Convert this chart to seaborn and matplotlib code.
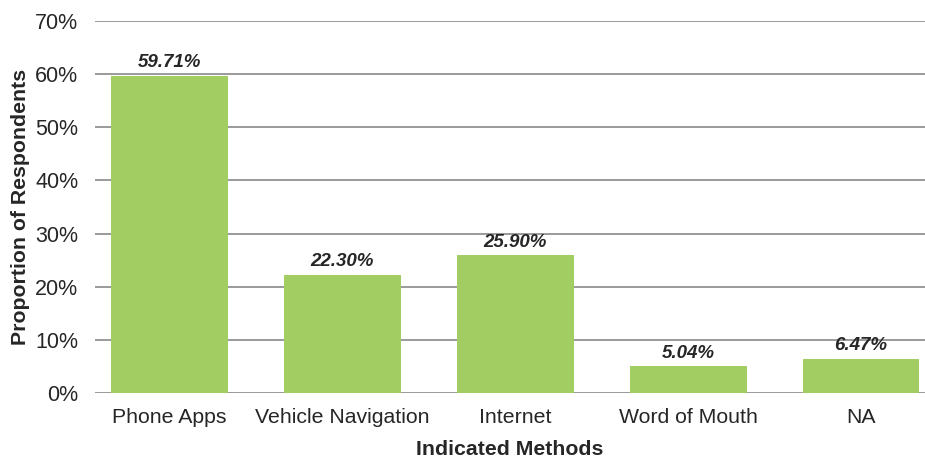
import matplotlib
matplotlib.use("Agg")
import matplotlib.pyplot as plt
import seaborn as sns
import pandas as pd

categories = ["Phone Apps", "Vehicle Navigation", "Internet", "Word of Mouth", "NA"]
values = [59.71, 22.30, 25.90, 5.04, 6.47]
yticks = [0, 10, 20, 30, 40, 50, 60, 70]

sns.set_style("white")
plt.rcParams['font.family'] = ['Liberation Sans', 'DejaVu Sans']

df = pd.DataFrame({"Method": categories, "Value": values})

fig = plt.figure(figsize=(9.25, 4.57), dpi=100)
ax = fig.add_axes([0.1027, 0.140, 0.8973, 0.814])

sns.barplot(data=df, x="Method", y="Value", color="#a2cd62", saturation=1,
            width=0.676, ax=ax, zorder=3, linewidth=0)

ax.set_ylim(0, 70)
ax.set_xlim(-0.43, 4.37)
ax.set_yticks(yticks)
ax.set_yticklabels([f"{t}%" for t in yticks], fontsize=15.5, color="#262626")
ax.yaxis.grid(True, color="#9a9a9a", linewidth=1.4, zorder=0)
ax.set_axisbelow(True)
for s in ax.spines.values():
    s.set_visible(False)
ax.tick_params(axis="y", length=0, pad=12)
ax.tick_params(axis="x", length=0, labelsize=15.3, labelcolor="#262626", pad=11)

for i, v in enumerate(values):
    ax.text(i, v + 0.8, f"{v:.2f}%", ha="center", va="bottom",
            fontsize=13.5, fontweight="bold", fontstyle="italic",
            color="#262626", family=["Liberation Sans Narrow", "Liberation Sans", "DejaVu Sans"])

ax.set_ylabel("Proportion of Respondents", fontsize=15.3, fontweight="bold", color="#262626", labelpad=4)
ax.set_xlabel("Indicated Methods", fontsize=15.3, fontweight="bold", color="#262626", labelpad=9)

fig.savefig("out.png", dpi=100)
